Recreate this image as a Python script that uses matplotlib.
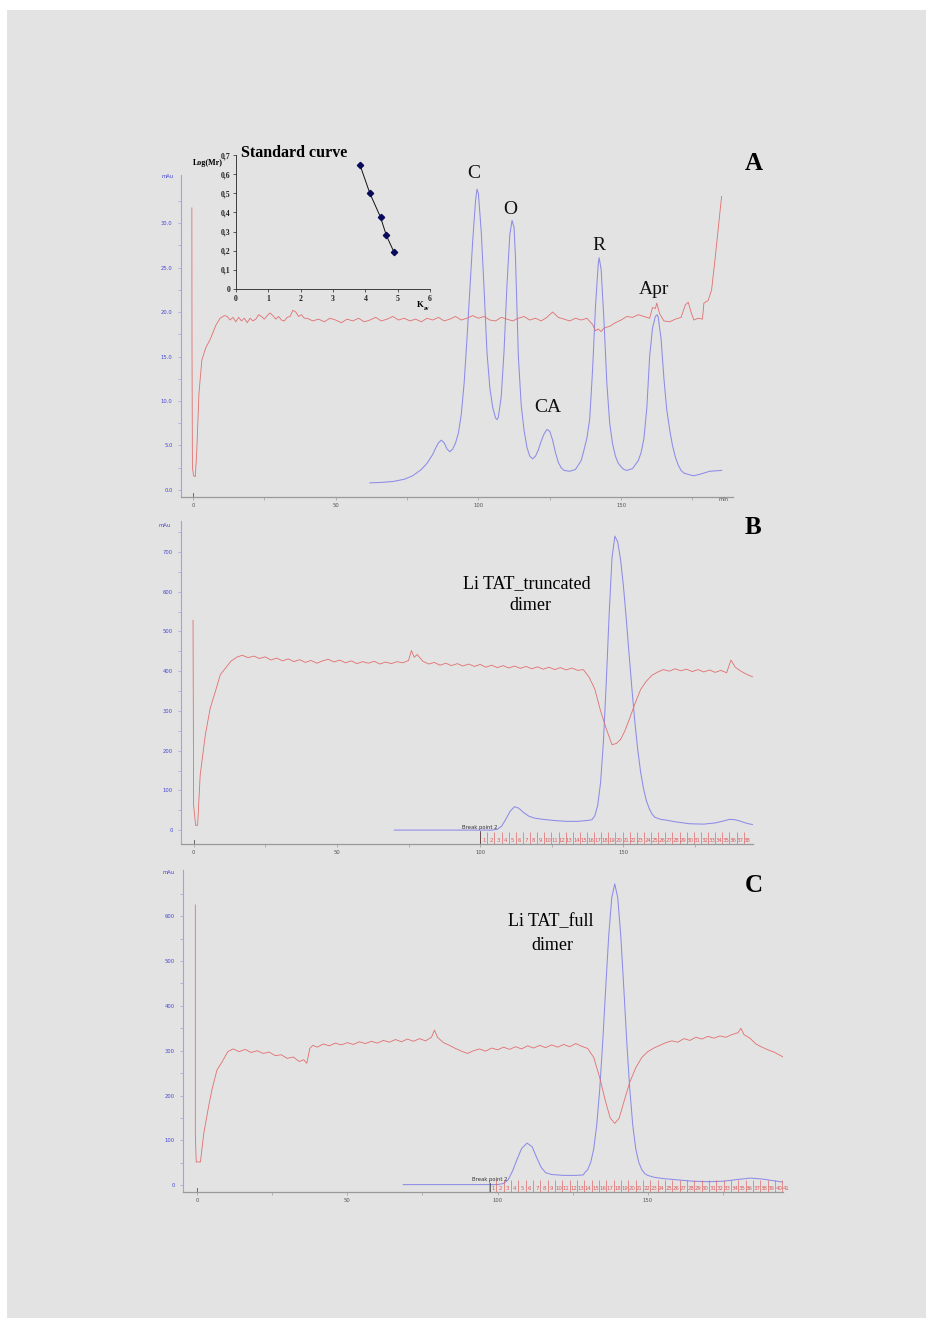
import matplotlib
matplotlib.use('Agg')
import matplotlib.pyplot as plt
from matplotlib.patches import Rectangle
from matplotlib.ticker import FixedLocator

W, H = 933, 1326

# ---------------- Panel A data ----------------
a_blue_x = [62, 66, 70, 74, 77, 80, 82, 84, 85, 86, 87, 88, 89, 90, 91, 92, 93, 94, 95, 96, 97, 98, 99, 99.5,
            100, 101, 102, 103, 104, 105, 106, 106.5, 107, 108, 109, 110, 111, 111.8, 112.5, 113, 114, 115, 116,
            117, 118, 119, 120, 121, 122, 123, 124, 125, 126, 127, 128, 129, 130, 132, 134, 136, 137, 138, 139,
            140, 141, 142, 142.3, 143, 144, 145, 146, 147, 148, 149, 150, 151, 152, 154, 156, 157, 158, 159, 160,
            161, 162, 162.6, 163, 164, 165, 166, 167, 168, 169, 170, 171, 172, 174, 175.5, 178, 181, 185.2]
a_blue_y = [0.8, 0.85, 0.95, 1.2, 1.6, 2.3, 3.0, 4.0, 4.7, 5.3, 5.6, 5.3, 4.6, 4.3, 4.6, 5.3, 6.4, 8.5, 12, 17,
            22.5, 28, 32.5, 33.8, 33.3, 29, 22.5, 15.5, 11.5, 9.3, 8.1, 7.9, 8.2, 10.5, 15.7, 23, 28.7, 30.3, 29.5,
            26, 15, 9.5, 6.7, 4.8, 3.8, 3.5, 3.8, 4.5, 5.5, 6.3, 6.8, 6.6, 5.6, 4.2, 3.1, 2.5, 2.2, 2.1, 2.3, 3.3,
            4.5, 5.8, 8, 13.5, 20.5, 25.5, 26.1, 24.8, 19, 12, 7.5, 5.2, 3.8, 3.0, 2.6, 2.3, 2.2, 2.4, 3.3, 4.2,
            5.8, 9.2, 15, 18.2, 19.5, 19.7, 19.4, 17, 12.5, 9.0, 6.8, 5.0, 3.7, 2.8, 2.2, 1.9, 1.7, 1.6, 1.8, 2.1,
            2.2]

a_red_x = [-0.4, -0.35, -0.2, 0.2, 0.8, 1.3, 2.1, 3.1, 4.5, 6, 8, 9.5, 11,
           12, 13, 14, 15, 16, 17, 18, 19, 20, 21, 22, 23, 24, 25, 26, 27, 28, 29, 30, 31, 32, 33, 34, 35, 36,
           37, 38, 39, 40, 42, 44, 46, 48, 50, 52, 54, 56, 58, 60,
           62, 64, 66, 68, 70, 72, 74, 76, 78, 80, 82, 84, 86, 88, 90, 92, 94, 96, 98, 100, 102, 104, 106, 108,
           110, 112, 114, 116, 118, 120, 122, 124, 126, 128, 130, 132, 134, 136, 138, 140, 141, 142, 143, 144,
           146, 148, 150, 152, 154, 156, 158, 160, 161, 162, 162.5, 163.5, 165, 167, 169, 171, 172.5, 173.5,
           174.5, 175.5, 177, 178.5, 179, 180.5, 181.7, 182.9, 184.1, 185.2]
a_red_y = [31.7, 16.6, 2.5, 1.6, 1.5, 4.2, 10.9, 14.6, 16.0, 16.9, 18.5, 19.3, 19.6,
           19.5, 19.1, 19.4, 18.9, 19.4, 19.0, 19.3, 18.8, 19.3, 19.0, 19.2, 19.7, 19.5, 19.2, 19.6, 19.9, 19.6,
           19.2, 19.5, 19.1, 19.0, 19.4, 19.5, 20.2, 20.0, 19.5, 19.7, 19.3, 19.3, 19.0, 19.2,
           18.9, 19.3, 19.1, 18.8, 19.2, 19.0, 19.3, 18.9, 19.1, 19.4, 19.0, 19.2, 19.5, 19.1, 19.3, 19.0, 19.2,
           18.9, 19.3, 19.1, 19.4, 19.0, 19.2, 19.5, 19.1, 19.3, 19.6, 19.3, 19.5, 19.1, 19.0, 19.4, 19.2, 19.0,
           19.3, 19.5, 19.1, 19.3, 19.0, 19.4, 20.0, 19.4, 19.2, 19.0, 19.3, 19.1, 19.3, 18.6, 17.9, 18.1, 17.8,
           18.2, 18.4, 18.8, 19.1, 19.5, 19.4, 19.7, 19.5, 19.3, 20.5, 20.4, 21.0, 19.8, 19.0, 18.9, 19.2, 19.4,
           20.8, 21.1, 20.0, 19.1, 19.3, 19.2, 21.0, 21.3, 22.5, 25.9, 29.6, 33.0]

a_yticks = [0, 5, 10, 15, 20, 25, 30]
a_ylabels = ['0.0', '5.0', '10.0', '15.0', '20.0', '25.0', '30.0']
peak_labels = ['C', 'O', 'CA', 'R', 'Apr']

# Standard curve inset
std_kav = [3.83, 4.14, 4.47, 4.65, 4.88]
std_logmr = [0.65, 0.50, 0.375, 0.28, 0.195]
std_yticks = [0, 0.1, 0.2, 0.3, 0.4, 0.5, 0.6, 0.7]
std_ylabels = ['0', '0,1', '0,2', '0,3', '0,4', '0,5', '0,6', '0,7']
std_xticks = [0, 1, 2, 3, 4, 5, 6]

# ---------------- Panel B data ----------------
b_blue_x = [70, 104, 106, 107.5, 109, 110.5, 112, 113.5, 115, 117, 119, 122, 126, 130, 134, 137, 139, 140, 141,
            142, 143, 144, 145, 146, 147, 148, 149, 150, 151, 152, 153, 154, 155, 156, 157, 158, 159, 160, 161,
            163, 165, 168, 173, 178, 182, 185, 187, 189, 191, 193, 195]
b_blue_y = [0, 0, 2, 10, 28, 48, 59, 55, 45, 35, 30, 27, 24, 22, 22, 24, 26, 36, 62, 119, 222, 372, 543, 685,
            740, 725, 680, 613, 530, 439, 351, 270, 201, 145, 104, 74, 54, 40, 32, 27, 25, 21, 16, 15, 18, 23,
            27, 26, 22, 17, 14]

b_red_x = [-0.2, 0.0, 0.7, 1.4, 2.3, 4.1, 5.8, 7.6, 9.3, 11.6, 13, 15, 17, 19, 21, 23, 25, 27, 29, 31, 33, 35,
           37, 39, 41, 43, 45, 47, 49, 51, 53, 55, 57, 59, 61, 63, 65, 67, 69, 71, 73, 75, 76, 77, 78, 80, 82,
           84, 86, 88, 90, 92, 94, 96, 98, 100, 102, 104, 106, 108, 110, 112, 114, 116, 118, 120, 122, 124,
           126, 128, 130, 132, 134, 136, 138, 140, 142, 144, 146, 147.5, 149, 150.5, 152, 154, 156, 158, 160,
           162, 164, 166, 168, 170, 172, 174, 176, 178, 180, 182, 184, 186, 187.5, 189, 191, 193, 195]
b_red_y = [528, 63, 12, 12, 139, 240, 307, 349, 391, 412, 425, 435, 440, 434, 438, 432, 436, 428, 433, 426,
           431, 424, 429, 422, 427, 420, 426, 430, 423, 428, 421, 426, 419, 424, 420, 425, 418, 423, 419, 424,
           421, 427, 452, 435, 442, 425, 418, 422, 415, 420, 414, 419, 413, 418, 412, 417, 410, 415, 409, 414,
           408, 413, 407, 412, 406, 411, 405, 410, 404, 409, 403, 408, 402, 404, 385, 355, 300, 255, 215, 218,
           228, 250, 278, 318, 354, 375, 390, 398, 404, 400, 406, 401, 405, 399, 404, 398, 403, 397, 402, 396,
           428, 410, 400, 392, 386]

b_yticks = [0, 100, 200, 300, 400, 500, 600, 700]
b_ylabels = ['0', '100', '200', '300', '400', '500', '600', '700']
b_label = ['Li TAT_truncated', 'dimer']
b_frac_start, b_frac_width, b_frac_n = 100.0, 2.485, 38

# ---------------- Panel C data ----------------
c_blue_x = [68.6, 100, 102, 103.5, 105, 106.5, 108, 109.8, 111.5, 113, 114.5, 116, 118, 122, 126, 128.5, 129,
            130, 131, 132, 133, 134, 135, 136, 137, 138, 139, 140, 141, 142, 143, 144, 145, 146, 147, 148, 149,
            150, 152, 155, 160, 165, 170, 175, 180, 184, 188, 192, 195]
c_blue_y = [1.5, 1.5, 4, 12, 32, 58, 82, 94, 86, 62, 40, 28, 24, 22, 22, 23, 28, 35, 51, 81, 134, 214, 320,
            441, 557, 641, 672, 641, 557, 441, 320, 214, 134, 81, 51, 35, 26, 22, 18, 15, 12, 9, 8, 9, 13, 16,
            14, 10, 7]

c_red_x = [-0.6, -0.6, -0.3, 1.1, 2.2, 3.8, 4.9, 6.6, 8.3, 10.2, 12, 14, 16, 18, 20, 22, 24, 26, 28, 30, 32,
           34, 35.5, 36.5, 37.5, 38.5, 40, 42, 44, 46, 48, 50, 52, 54, 56, 58, 60, 62, 64, 66, 68, 70, 72, 74,
           76, 78, 79, 80, 82, 84, 86, 88, 90, 92, 94, 96, 98, 100, 102, 104, 106, 108, 110, 112, 114, 116, 118,
           120, 122, 124, 126, 128, 130, 132, 134, 136, 137.5, 139, 140.5, 142, 144, 146, 148, 150, 152, 154,
           156, 158, 160, 162, 164, 166, 168, 170, 172, 174, 176, 178, 180, 181, 182, 184, 186, 188, 190, 192,
           194, 195]
c_red_y = [625, 115, 52, 52, 115, 175, 212, 257, 275, 298, 304, 298, 303, 296, 300, 294, 297, 289, 291, 283,
           286, 276, 280, 272, 305, 312, 308, 315, 311, 317, 313, 318, 314, 320, 316, 321, 317, 323, 319, 325,
           320, 326, 321, 327, 322, 330, 346, 330, 318, 312, 305, 299, 294, 300, 304, 299, 306, 302, 308, 303,
           309, 304, 311, 306, 312, 307, 313, 308, 314, 309, 316, 310, 305, 285, 240, 185, 150, 138, 150, 185,
           230, 262, 285, 298, 306, 312, 318, 322, 319, 327, 323, 330, 326, 332, 328, 333, 330, 336, 340, 350,
           336, 328, 315, 308, 302, 297, 290, 286]

c_yticks = [0, 100, 200, 300, 400, 500, 600]
c_ylabels = ['0', '100', '200', '300', '400', '500', '600']
c_label = ['Li TAT_full', 'dimer']
c_frac_start, c_frac_width, c_frac_n = 97.2, 2.44, 41

x_ticks = [0, 50, 100, 150]
x_labels = ['0', '50', '100', '150']

# ---------------- styles ----------------
BLUE = '#8c8ce8'
RED = '#e26e6e'
AXBLUE = '#a0a0ee'
TXTBLUE = '#4646d6'
FRACRED = '#e05a5a'
SERIF = ['Liberation Serif', 'DejaVu Serif']
SANS = ['DejaVu Sans']

fig = plt.figure(figsize=(W / 100, H / 100), dpi=100)
fig.patch.set_facecolor('white')
fig.patches.append(Rectangle((7 / W, 1 - 1318 / H), (926 - 7) / W, (1318 - 10) / H,
                             transform=fig.transFigure, facecolor='#e3e3e3', edgecolor='none', zorder=-10))


def fx(px):
    return px / W


def fy(py):
    return 1 - py / H


def add_ax(l, t, r, b):
    return fig.add_axes([l / W, 1 - b / H, (r - l) / W, (b - t) / H])


def style(ax, xlim, ylim, yticks, ylabels, yminor):
    ax.set_facecolor('none')
    for s in ['top', 'right']:
        ax.spines[s].set_visible(False)
    ax.spines['left'].set_color(AXBLUE)
    ax.spines['left'].set_linewidth(0.8)
    ax.spines['bottom'].set_color('#9a9a9a')
    ax.spines['bottom'].set_linewidth(0.9)
    ax.set_xlim(*xlim)
    ax.set_ylim(*ylim)
    ax.set_yticks(yticks)
    ax.set_yticklabels(ylabels, family=SANS)
    ax.yaxis.set_minor_locator(FixedLocator(yminor))
    ax.set_xticks(x_ticks)
    ax.set_xticklabels(x_labels, family=SANS)
    ax.xaxis.set_minor_locator(FixedLocator([25, 75, 125, 175]))
    ax.tick_params(axis='y', which='both', colors=AXBLUE, labelcolor=TXTBLUE, labelsize=3.8,
                   length=2, width=0.5, pad=4)
    ax.tick_params(axis='x', which='both', colors='#9a9a9a', labelcolor='#555555', labelsize=3.8,
                   length=2, width=0.5, pad=2)
    # injection marker at t = 0
    ax.plot([0, 0], [0, 0.012], transform=ax.get_xaxis_transform(), color='#555555', lw=0.6, clip_on=False)


def fractions(ax, start, width, n, axh_px):
    tr = ax.get_xaxis_transform()
    h = 12 / axh_px
    edges = [start + k * width for k in range(n)]
    ax.vlines(edges, 0, h, transform=tr, colors=FRACRED, lw=0.45, clip_on=False)
    for k in range(n):
        ax.text(start + (k + 0.5) * width, 0.003, str(k + 1), transform=tr, ha='center', va='bottom',
                fontsize=3.9, color=FRACRED, family=SANS, clip_on=False)


def breakpoint(ax, x, top_px, axh_px):
    tr = ax.get_xaxis_transform()
    h = top_px / axh_px
    ax.plot([x, x], [0, h], transform=tr, color='#333333', lw=0.5, clip_on=False)
    ax.text(x, h + 0.002, 'Break point 2', transform=tr, ha='center', va='bottom', fontsize=3.8,
            color='#333333', family=SANS)


# ---------------- Panel A ----------------
axA = add_ax(181, 175, 733, 497)
style(axA, (-4.2, 189.2), (-0.79, 35.4), a_yticks, a_ylabels, [2.5, 7.5, 12.5, 17.5, 22.5, 27.5, 32.5])
axA.plot(a_blue_x, a_blue_y, color=BLUE, lw=0.75)
axA.plot(a_red_x, a_red_y, color=RED, lw=0.6)
axA.text(186, -0.79, 'min', transform=axA.transData, ha='center', va='top', fontsize=3.8, color='#555555',
         family=SANS)
fig.text(fx(168), fy(177), 'mAu', fontsize=3.8, color=TXTBLUE, ha='center', va='center', family=SANS)

for lab, (px, py) in zip(peak_labels, [(474, 173), (510, 209), (548, 408), (599, 245), (654, 290)]):
    fig.text(fx(px), fy(py), lab, fontsize=14, family=SERIF, ha='center', va='center', color='#111111')
fig.text(fx(754), fy(163), 'A', fontsize=18, fontweight='bold', family=SERIF, ha='center', va='center')

# inset standard curve
axI = add_ax(236, 155, 430, 289)
axI.set_facecolor('none')
for s in ['top', 'right']:
    axI.spines[s].set_visible(False)
for s in ['left', 'bottom']:
    axI.spines[s].set_color('#222222')
    axI.spines[s].set_linewidth(0.6)
axI.set_xlim(0, 6)
axI.set_ylim(0, 0.7)
axI.set_yticks(std_yticks)
axI.set_yticklabels(std_ylabels, family=SERIF, fontweight='bold')
axI.set_xticks(std_xticks)
axI.set_xticklabels([str(v) for v in std_xticks], family=SERIF, fontweight='bold')
axI.tick_params(axis='both', labelsize=5.6, length=2, width=0.5, pad=2, colors='#222222')
axI.plot(std_kav, std_logmr, color='#111111', lw=0.7, marker='D', markersize=3.2,
         markerfacecolor='#0a0a5a', markeredgecolor='#0a0a5a')
fig.text(fx(294), fy(153), 'Standard curve', fontsize=11.5, fontweight='bold', family=SERIF,
         ha='center', va='center')
fig.text(fx(208), fy(163), 'Log(Mr)', fontsize=5.8, fontweight='bold', family=SERIF, ha='center',
         va='center')
fig.text(fx(420), fy(305), 'K', fontsize=6.2, fontweight='bold', family=SERIF, ha='center', va='center')
fig.text(fx(426.5), fy(308), 'av', fontsize=4.0, fontweight='bold', family=SERIF, ha='center', va='center')

# ---------------- Panel B ----------------
axB = add_ax(181, 521, 753, 844)
style(axB, (-4.4, 195.2), (-35, 778), b_yticks, b_ylabels, [50, 150, 250, 350, 450, 550, 650, 750])
axB.plot(b_blue_x, b_blue_y, color=BLUE, lw=0.75)
axB.plot(b_red_x, b_red_y, color=RED, lw=0.6)
fractions(axB, b_frac_start, b_frac_width, b_frac_n, 844 - 521)
breakpoint(axB, b_frac_start, 13, 844 - 521)
fig.text(fx(165), fy(526), 'mAu', fontsize=3.8, color=TXTBLUE, ha='center', va='center', family=SANS)
fig.text(fx(527), fy(584), b_label[0], fontsize=13, family=SERIF, ha='center', va='center')
fig.text(fx(530), fy(606), b_label[1], fontsize=13, family=SERIF, ha='center', va='center')
fig.text(fx(753), fy(528), 'B', fontsize=18, fontweight='bold', family=SERIF, ha='center', va='center')

# ---------------- Panel C ----------------
axC = add_ax(183, 870, 783, 1192)
style(axC, (-4.7, 195.0), (-15, 703), c_yticks, c_ylabels, [50, 150, 250, 350, 450, 550, 650])
axC.plot(c_blue_x, c_blue_y, color=BLUE, lw=0.75)
axC.plot(c_red_x, c_red_y, color=RED, lw=0.6)
fractions(axC, c_frac_start, c_frac_width, c_frac_n, 1192 - 870)
breakpoint(axC, 97.4, 9, 1192 - 870)
fig.text(fx(169), fy(873), 'mAu', fontsize=3.8, color=TXTBLUE, ha='center', va='center', family=SANS)
fig.text(fx(551), fy(922), c_label[0], fontsize=13, family=SERIF, ha='center', va='center')
fig.text(fx(552), fy(945), c_label[1], fontsize=13, family=SERIF, ha='center', va='center')
fig.text(fx(754), fy(885), 'C', fontsize=18, fontweight='bold', family=SERIF, ha='center', va='center')

fig.savefig('out.png', dpi=100, facecolor='white')
